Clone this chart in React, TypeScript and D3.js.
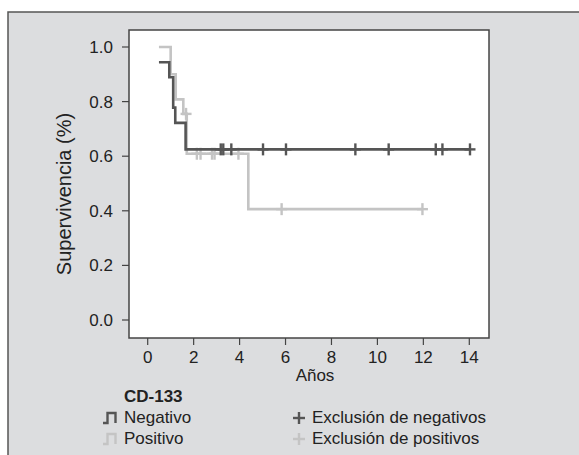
import React from "react";
import * as d3 from "d3";

// Kaplan-Meier steps
const negTimes = [0.49, 0.94, 1.11, 1.2, 1.65];
const negSurv = [0.944, 0.889, 0.778, 0.722, 0.625];
const negEnd = 14.03;
const negCensor = [3.18, 3.29, 3.64, 5.02, 6.02, 9.04, 10.49, 12.54, 12.83, 14.03];

const posTimes = [0.49, 1.0, 1.22, 1.55, 1.7, 4.38];
const posSurv = [1.0, 0.9, 0.808, 0.755, 0.609, 0.406];
const posEnd = 11.96;
const posCensor = [1.67, 2.14, 2.3, 2.8, 2.91, 3.95, 5.83, 11.96];

const xTicks = [0, 2, 4, 6, 8, 10, 12, 14];
const yTicks = [0, 0.2, 0.4, 0.6, 0.8, 1.0];

const legendTitle = "CD-133";
const seriesNames = ["Negativo", "Positivo"];
const censorNames = ["Exclusión de negativos", "Exclusión de positivos"];

const DARK = "#555555";
const LIGHT = "#c4c4c4";
const BG = "#dcdddf";
const FONT = "'Liberation Sans', Arial, sans-serif";

const plot = { left: 129, top: 30, right: 489, bottom: 338 };

export default function App() {
  const x = d3.scaleLinear().domain([0, 14]).range([147.7, 469.3]);
  const y = d3.scaleLinear().domain([0, 1]).range([320, 47]);

  const stepLine = d3
    .line<[number, number]>()
    .x((d) => x(d[0]))
    .y((d) => y(d[1]))
    .curve(d3.curveStepAfter);

  const makePts = (times: number[], surv: number[], end: number): [number, number][] => {
    const pts: [number, number][] = times.map((t, i) => [t, surv[i]]);
    pts.push([end, surv[surv.length - 1]]);
    return pts;
  };

  const survAt = (times: number[], surv: number[], t: number) => {
    let v = surv[0];
    for (let i = 0; i < times.length; i++) if (times[i] <= t) v = surv[i];
    return v;
  };

  const series = [
    { times: negTimes, surv: negSurv, end: negEnd, censor: negCensor, color: DARK },
    { times: posTimes, surv: posSurv, end: posEnd, censor: posCensor, color: LIGHT },
  ];

  return (
    <svg
      width={579}
      height={455}
      style={{ position: "absolute", left: 0, top: 0 }}
      fontFamily={FONT}
    >
      <rect x={0} y={0} width={579} height={455} fill="#ffffff" />
      <rect x={8} y={12} width={600} height={460} fill={BG} stroke="#555" strokeWidth={1.5} />
      <rect
        x={plot.left}
        y={plot.top}
        width={plot.right - plot.left}
        height={plot.bottom - plot.top}
        fill="#ffffff"
        stroke="#444"
        strokeWidth={1.5}
      />

      {/* y axis */}
      {yTicks.map((v) => (
        <g key={"y" + v}>
          <line x1={122} x2={plot.left} y1={y(v)} y2={y(v)} stroke="#444" strokeWidth={1.2} />
          <text x={113} y={y(v)} dy="0.35em" textAnchor="end" fontSize={17} fill="#222">
            {d3.format(".1f")(v)}
          </text>
        </g>
      ))}
      <text
        transform={`translate(71,194) rotate(-90)`}
        textAnchor="middle"
        fontSize={20}
        fill="#222"
      >
        Supervivencia (%)
      </text>

      {/* x axis */}
      {xTicks.map((v) => (
        <g key={"x" + v}>
          <line x1={x(v)} x2={x(v)} y1={plot.bottom} y2={plot.bottom + 7} stroke="#444" strokeWidth={1.2} />
          <text x={x(v)} y={363} textAnchor="middle" fontSize={17} fill="#222">
            {v}
          </text>
        </g>
      ))}
      <text x={315} y={381} textAnchor="middle" fontSize={17} fill="#222">
        Años
      </text>

      {/* curves (light first so dark sits on top) */}
      {[series[1], series[0]].map((s, si) => (
        <g key={"s" + si}>
          <path
            d={stepLine(makePts(s.times, s.surv, s.end)) || ""}
            fill="none"
            stroke={s.color}
            strokeWidth={2.6}
          />
          {s.censor.map((t, i) => {
            const cx = x(t);
            const cy = y(survAt(s.times, s.surv, t));
            return (
              <g key={i} stroke={s.color} strokeWidth={2.4}>
                <line x1={cx} x2={cx} y1={cy - 6} y2={cy + 6} />
                <line x1={cx - 5.5} x2={cx + 5.5} y1={cy} y2={cy} />
              </g>
            );
          })}
        </g>
      ))}

      {/* legend */}
      <text x={124} y={402} fontSize={17} fontWeight="bold" fill="#222">
        {legendTitle}
      </text>
      {seriesNames.map((name, i) => {
        const col = i === 0 ? DARK : LIGHT;
        const by = 423 + i * 21;
        return (
          <g key={name}>
            <path
              d={`M103,${by} H107.5 V${by - 10} H115.5 V${by}`}
              fill="none"
              stroke={col}
              strokeWidth={2.4}
            />
            <text x={124} y={by} fontSize={17} fill="#222">
              {name}
            </text>
          </g>
        );
      })}
      {censorNames.map((name, i) => {
        const col = i === 0 ? DARK : LIGHT;
        const by = 423 + i * 21;
        const cy = by - 5;
        return (
          <g key={name}>
            <g stroke={col} strokeWidth={2.4}>
              <line x1={299} x2={299} y1={cy - 6} y2={cy + 6} />
              <line x1={293} x2={305} y1={cy} y2={cy} />
            </g>
            <text x={312} y={by} fontSize={17} fill="#222">
              {name}
            </text>
          </g>
        );
      })}
    </svg>
  );
}
